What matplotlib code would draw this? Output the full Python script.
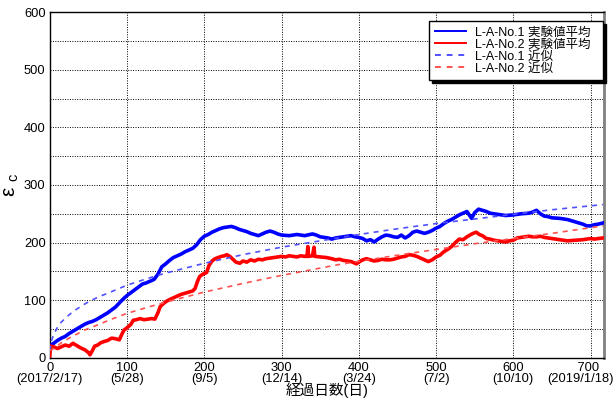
import numpy as np
import matplotlib
matplotlib.use('Agg')
import matplotlib.pyplot as plt
import matplotlib.transforms as mtransforms
from matplotlib.ticker import MultipleLocator

plt.rcParams['font.family'] = ['Liberation Sans', 'Noto Sans CJK JP', 'DejaVu Sans']

# 経過日数と実験値平均 (L-A-No.1)
days_1 = [0, 5, 10, 15, 20, 25, 30, 35, 40, 45, 50, 55, 60, 65, 70, 75, 80, 85, 90, 95,
          100, 105, 110, 115, 120, 125, 130, 135, 140, 145, 150, 155, 160, 165, 170, 175,
          180, 185, 190, 195, 200, 205, 210, 215, 220, 225, 230, 235, 240, 245, 250, 255,
          260, 265, 270, 275, 280, 285, 290, 295, 300, 310, 320, 330, 340, 345, 350, 360,
          365, 370, 380, 390, 395, 400, 405, 410, 415, 420, 425, 430, 435, 440, 445, 450,
          455, 460, 465, 470, 475, 480, 485, 490, 495, 500, 505, 510, 515, 520, 525, 530,
          535, 540, 543, 546, 550, 555, 560, 565, 570, 575, 580, 590, 600, 610, 620, 625,
          630, 635, 640, 645, 650, 660, 670, 680, 690, 695, 700, 705, 710, 716]
eps_1 = [20, 25, 30, 34, 37, 42, 46, 50, 54, 58, 61, 63, 66, 70, 74, 78, 83, 88, 95, 102,
         108, 113, 118, 123, 128, 130, 133, 136, 145, 158, 163, 169, 174, 177, 180, 184,
         187, 190, 196, 205, 211, 214, 218, 221, 224, 226, 227, 228, 226, 223, 221, 219,
         216, 214, 212, 215, 218, 220, 218, 215, 213, 212, 214, 212, 215, 213, 210, 208,
         206, 208, 210, 212, 210, 209, 207, 203, 205, 201, 206, 210, 213, 212, 210, 209,
         213, 208, 212, 218, 220, 218, 216, 218, 221, 225, 228, 233, 237, 240, 244, 248,
         251, 254, 248, 242, 252, 258, 256, 254, 251, 250, 249, 247, 248, 250, 251, 253,
         256, 250, 246, 245, 243, 242, 240, 236, 232, 229, 229, 231, 232, 234]

# 経過日数と実験値平均 (L-A-No.2)
days_2 = [0, 1, 5, 10, 15, 20, 25, 30, 35, 40, 45, 50, 52, 55, 58, 62, 66, 70, 75, 80,
          85, 90, 93, 96, 100, 105, 108, 112, 117, 122, 127, 132, 136, 140, 143, 147, 151,
          155, 160, 165, 170, 175, 180, 185, 188, 191, 194, 198, 203, 206, 210, 214, 218,
          222, 226, 229, 233, 237, 241, 246, 250, 255, 260, 265, 270, 275, 280, 285, 290,
          295, 300, 305, 310, 315, 320, 325, 330, 333, 334, 335, 340, 342, 343, 350, 358,
          365, 370, 375, 380, 385, 390, 397, 400, 405, 410, 415, 420, 425, 430, 435, 440,
          445, 450, 455, 460, 465, 470, 475, 480, 485, 490, 495, 500, 505, 510, 515, 520,
          525, 530, 535, 540, 545, 548, 552, 556, 560, 565, 570, 575, 580, 585, 590, 595,
          600, 605, 610, 615, 620, 625, 630, 635, 640, 645, 650, 660, 670, 680, 690, 700,
          705, 710, 716]
eps_2 = [3, 20, 19, 16, 19, 22, 20, 25, 21, 17, 14, 9, 5, 12, 20, 22, 26, 28, 30, 34,
         33, 31, 40, 48, 52, 58, 65, 66, 68, 66, 67, 68, 67, 78, 89, 94, 98,
         101, 104, 107, 110, 112, 114, 116, 120, 132, 141, 145, 148, 160, 168, 172, 174,
         176, 177, 179, 176, 171, 166, 164, 168, 166, 170, 168, 171, 170, 172, 173, 174,
         175, 176, 175, 177, 176, 175, 177, 176, 176, 193, 176, 177, 192, 176, 175, 174,
         172, 170, 171, 169, 168, 167, 163, 166, 170, 172, 170, 168, 169, 171, 170, 170,
         171, 173, 175, 176, 179, 178, 176, 173, 170, 167, 170, 175, 178, 184, 188, 193,
         200, 206, 205, 210, 214, 216, 218, 214, 212, 207, 206, 204, 203, 202, 201, 203,
         204, 208, 209, 210, 211, 210, 210, 211, 209, 208, 207, 205, 203, 204, 205, 207,
         206, 207, 208]

# 近似曲線
fit_days_1 = [0, 2, 5, 10, 15, 22, 30, 40, 50, 62, 75, 100, 125, 150, 200, 250, 300,
              350, 400, 450, 500, 550, 600, 650, 716]
fit_eps_1 = [12, 29, 40, 53, 62, 71, 80, 89, 97, 105, 112, 126, 137, 147, 164, 179, 192,
             203, 214, 224, 233, 241, 249, 257, 266]
fit_days_2 = [0, 3, 8, 15, 25, 35, 45, 60, 80, 100, 130, 160, 200, 250, 300, 375, 450,
              500, 550, 600, 650, 716]
fit_eps_2 = [12, 14, 19, 26, 34, 41, 48, 56, 67, 77, 89, 100, 114, 129, 143, 162, 178,
             188, 198, 207, 216, 229]

xticks = [0, 100, 200, 300, 400, 500, 600, 700]
xtick_labels = ['0\n(2017/2/17)', '100\n(5/28)', '200\n(9/5)', '300\n(12/14)',
                '400\n(3/24)', '500\n(7/2)', '600\n(10/10)', '    700\n(2019/1/18)']

fig = plt.figure(figsize=(6.14, 3.99), dpi=100)
ax = fig.add_axes([0.0811, 0.1035, 0.9034, 0.8657])

ax.plot(days_1, eps_1, color='#0000ff', lw=2.6, label='L-A-No.1 実験値平均  ', zorder=3)
ax.plot(days_2, eps_2, color='#ff0000', lw=2.6, label='L-A-No.2 実験値平均  ', zorder=3)
ax.plot(fit_days_1, fit_eps_1, color='#5050ff', lw=1.2, ls=(0, (3, 3)),
        label='L-A-No.1 近似', zorder=4)
ax.plot(fit_days_2, fit_eps_2, color='#ff5050', lw=1.2, ls=(0, (3, 3)),
        label='L-A-No.2 近似', zorder=4)

ax.set_xlim(0, 718)
ax.set_ylim(0, 600)
ax.set_xticks(xticks)
ax.set_xticklabels(xtick_labels, linespacing=0.95)
ax.yaxis.set_major_locator(MultipleLocator(100))
ax.yaxis.set_minor_locator(MultipleLocator(50))
ax.tick_params(axis='both', which='both', length=0, labelsize=9.3, pad=3)
ax.grid(True, which='both', color='black', ls=(0, (1, 1.5)), lw=0.7)
ax.set_axisbelow(True)

# 右端のラベルは枠内に収まるよう左へずらす
last = ax.get_xticklabels()[-1]
last.set_transform(last.get_transform() +
                   mtransforms.ScaledTranslation(-10 / 100, 0, fig.dpi_scale_trans))

for s in ['left', 'top', 'bottom']:
    ax.spines[s].set_color('black')
    ax.spines[s].set_linewidth(1.0)
ax.spines['right'].set_color('#808080')
ax.spines['right'].set_linewidth(2.0)

ax.set_xlabel('経過日数(日)', fontsize=10.5, labelpad=-2)
ax.set_ylabel('ε $_{\\mathregular{c}}$', fontsize=15, labelpad=2)

leg = ax.legend(loc='upper right', bbox_to_anchor=(0.997, 0.975), fontsize=9,
                fancybox=False, shadow={'color': 'black', 'alpha': 1.0}, framealpha=1,
                edgecolor='black', borderpad=0.45, labelspacing=0.0, handlelength=2.5,
                handletextpad=0.7, borderaxespad=0)
leg.get_frame().set_linewidth(1.0)
for line in leg.get_lines():
    line.set_linewidth(1.4)

fig.savefig('out.png', dpi=100)
